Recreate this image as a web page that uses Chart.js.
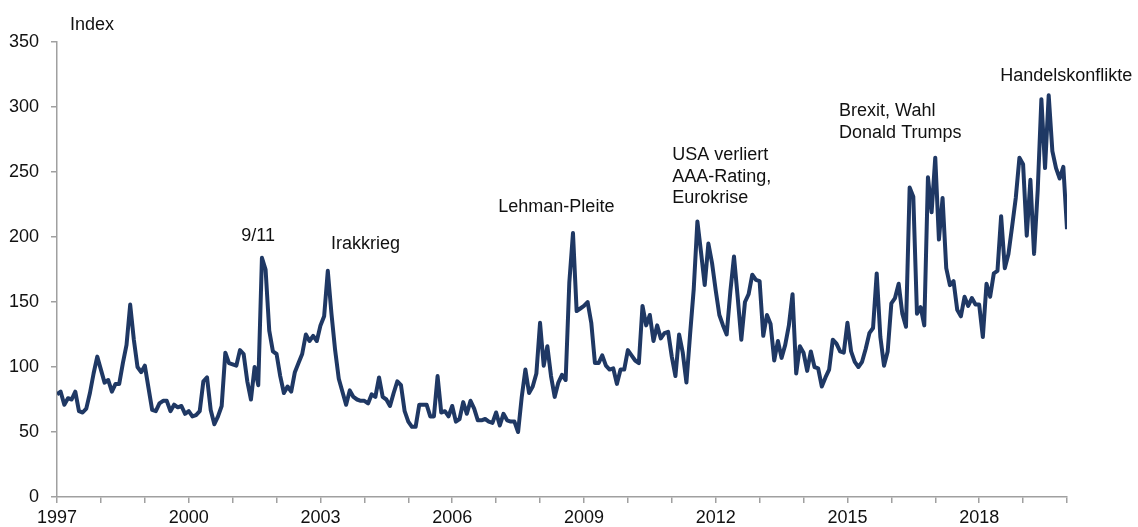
<!DOCTYPE html>
<html>
<head>
<meta charset="utf-8">
<title>Index</title>
<script src="https://cdn.jsdelivr.net/npm/chart.js@4/dist/chart.umd.min.js"></script>
<style>
  html, body { margin: 0; padding: 0; background: #fff; }
  #chart { display: block; }
</style>
</head>
<body>
<canvas id="chart" width="1138" height="527"></canvas>
<script>
/* ======================
   DATA (monthly, Jan 1997 - Jan 2020)
====================== */
const startYear = 1997;
const values = [
  79, 81, 71, 76, 75, 81, 66, 65, 68, 80, 95, 108,        // 1997
  98, 88, 90, 81, 87, 87, 103, 117, 148, 121, 100, 96,    // 1998
  101, 84, 67, 66, 72, 74, 74, 66, 71, 69, 70, 64,        // 1999
  66, 62, 63, 66, 89, 92, 67, 56, 62, 70, 111, 103,       // 2000
  102, 101, 113, 110, 89, 75, 100, 86, 184, 175, 128, 112,// 2001
  110, 93, 80, 85, 81, 96, 103, 110, 125, 120, 124, 120,  // 2002
  132, 139, 174, 141, 113, 91, 81, 71, 82, 77, 75, 74,    // 2003
  74, 72, 79, 77, 92, 77, 75, 70, 80, 89, 86, 66,         // 2004
  58, 54, 54, 71, 71, 71, 62, 62, 93, 65, 66, 62,         // 2005
  70, 58, 60, 73, 64, 74, 68, 59, 59, 60, 58, 57,         // 2006
  65, 55, 64, 59, 58, 58, 50, 77, 98, 80, 85, 95,         // 2007
  134, 101, 116, 93, 77, 88, 94, 90, 165, 203, 143, 145,  // 2008
  147, 150, 134, 103, 103, 109, 101, 98, 99, 87, 98, 98,  // 2009
  113, 109, 105, 103, 147, 132, 140, 120, 132, 122, 126, 127, // 2010
  108, 93, 125, 111, 88, 125, 160, 212, 188, 163, 195, 180,   // 2011
  159, 140, 132, 125, 158, 185, 154, 121, 150, 156, 171, 167, // 2012
  166, 124, 140, 133, 105, 120, 107, 117, 132, 156, 95, 116,  // 2013
  111, 97, 112, 100, 99, 85, 92, 98, 121, 118, 112, 111,      // 2014
  134, 112, 104, 100, 104, 114, 126, 130, 172, 123, 101, 112, // 2015
  149, 153, 164, 141, 131, 238, 231, 141, 146, 132, 246, 219, // 2016
  261, 198, 230, 176, 163, 166, 144, 139, 154, 147, 153, 148, // 2017
  148, 123, 164, 154, 172, 174, 216, 176, 187, 208, 230, 261, // 2018
  256, 201, 244, 187, 236, 306, 253, 309, 266, 253, 245, 254, // 2019
  206                                                         // 2020
];

const labelYears = [1997, 2000, 2003, 2006, 2009, 2012, 2015, 2018];
const yTicks = [0, 50, 100, 150, 200, 250, 300, 350];

// event labels, anchored in data coordinates (year, index value)
const eventTexts = [["9/11"], ["Irakkrieg"], ["Lehman-Pleite"],
  ["USA verliert", "AAA-Rating,", "Eurokrise"], ["Brexit, Wahl", "Donald Trumps"], ["Handelskonflikte"]];
const eventYears = [2001.58, 2003.24, 2007.05, 2011.01, 2014.81, 2018.48];
const eventLevels = [201, 194.6, 223.3, 263.1, 296.9, 323.8];
const eventAlign = ["center", "left", "left", "left", "left", "left"];

const points = values.map((v, i) => ({ x: startYear + i / 12, y: v }));

const FONT = "'Liberation Sans', Arial, sans-serif";
const AXIS_GREY = "#a0a0a0";

/* ======================
   TEXT LABELS PLUGIN
====================== */
const labelPlugin = {
  id: "eventLabels",
  afterDraw(chart) {
    const ctx = chart.ctx;
    const xs = chart.scales.x;
    const ys = chart.scales.y;
    ctx.save();
    ctx.fillStyle = "#111";
    ctx.font = "18px " + FONT;
    ctx.textBaseline = "middle";

    eventTexts.forEach((lines, k) => {
      const px = xs.getPixelForValue(eventYears[k]);
      const py = ys.getPixelForValue(eventLevels[k]);
      ctx.textAlign = eventAlign[k];
      lines.forEach((t, j) => ctx.fillText(t, px, py + j * 21.7));
    });

    // axis title
    ctx.textAlign = "left";
    ctx.fillText("Index", chart.chartArea.left + 13, chart.chartArea.top - 17);
    ctx.restore();
  }
};

/* ======================
   CHART
====================== */
new Chart(document.getElementById("chart"), {
  type: "line",
  data: {
    datasets: [{
      data: points,
      borderColor: "#1f3864",
      borderWidth: 4,
      borderJoinStyle: "round",
      pointRadius: 0,
      tension: 0,
      fill: false
    }]
  },
  options: {
    responsive: false,
    animation: false,
    devicePixelRatio: 1,
    layout: { padding: { top: 42, right: 71, left: 0, bottom: 0 } },
    plugins: {
      legend: { display: false },
      tooltip: { enabled: false }
    },
    scales: {
      x: {
        type: "linear",
        min: 1997,
        max: 2020,
        afterFit: s => { s.height = 30; },
        afterBuildTicks: s => {
          s.ticks = [];
          for (let y = 1997; y <= 2020; y++) s.ticks.push({ value: y });
        },
        ticks: {
          autoSkip: false,
          maxRotation: 0,
          padding: 4,
          color: "#111",
          font: { family: FONT, size: 18 },
          callback: v => (labelYears.includes(v) ? String(v) : "")
        },
        grid: { drawOnChartArea: false, color: AXIS_GREY, tickLength: 6, lineWidth: 1.5 },
        border: { color: AXIS_GREY, width: 1.5 }
      },
      y: {
        min: 0,
        max: 350,
        afterFit: s => { s.width = 57; },
        afterBuildTicks: s => { s.ticks = yTicks.map(v => ({ value: v })); },
        ticks: {
          padding: 12,
          color: "#111",
          font: { family: FONT, size: 18 }
        },
        grid: { drawOnChartArea: false, color: AXIS_GREY, tickLength: 6, lineWidth: 1.5 },
        border: { color: AXIS_GREY, width: 1.5 }
      }
    }
  },
  plugins: [labelPlugin]
});
</script>
</body>
</html>
